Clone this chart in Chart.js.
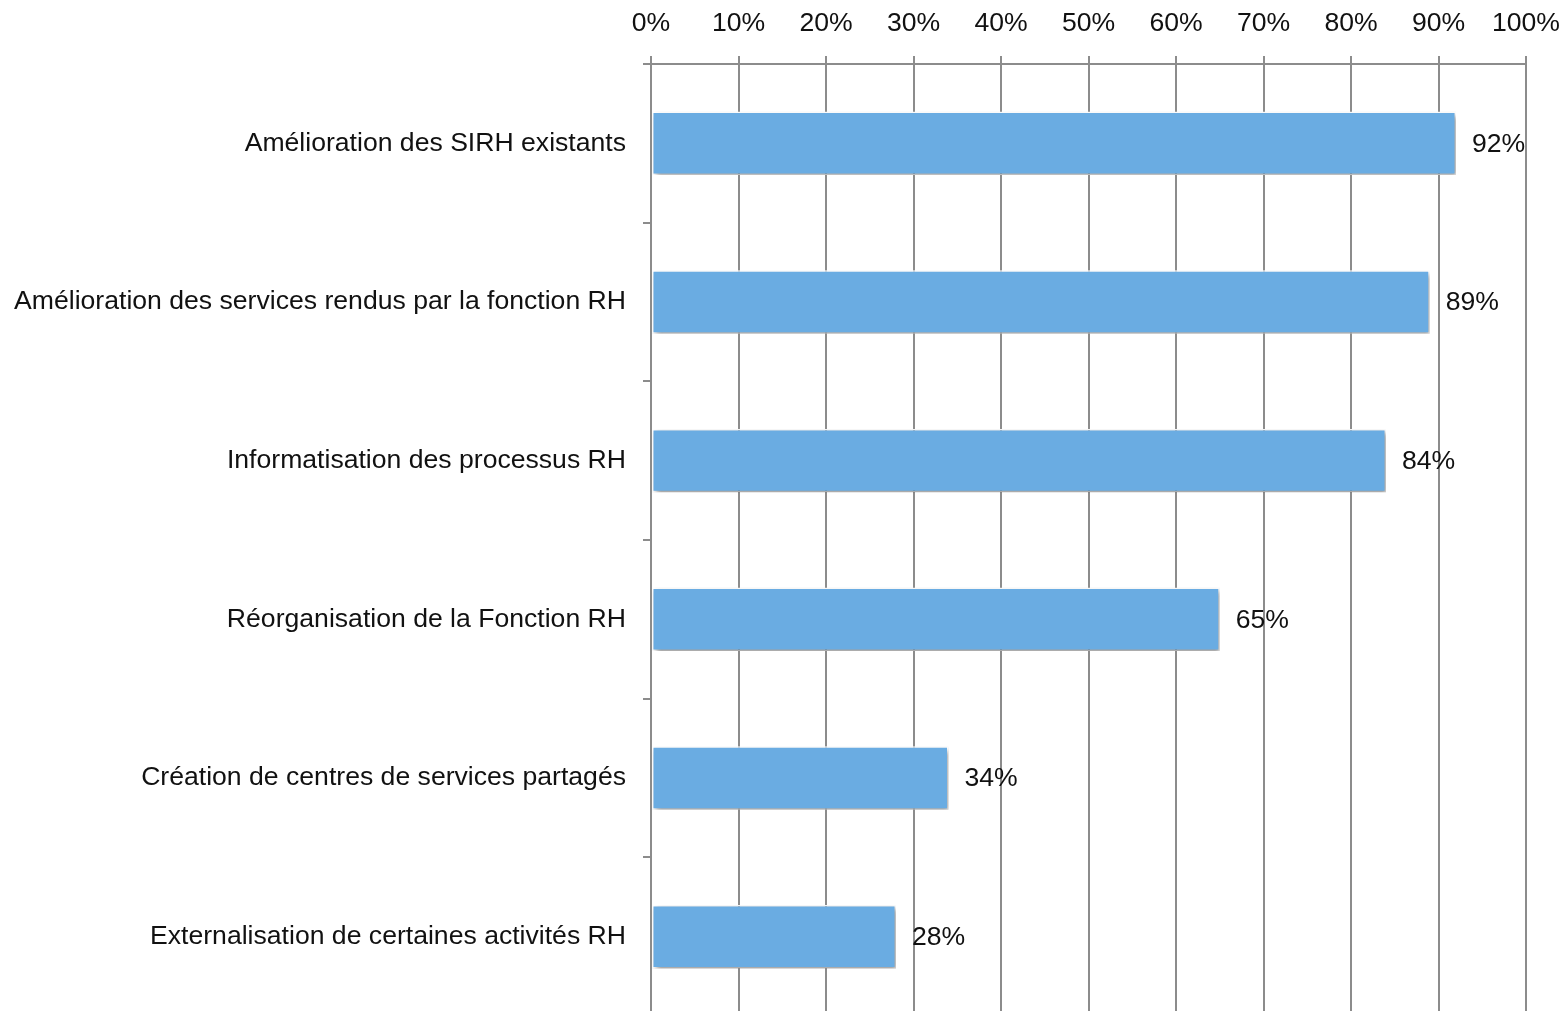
<!DOCTYPE html>
<html lang="fr">
<head>
    <meta charset="UTF-8">
    <title>Priorités RH</title>
    <script src="https://cdn.jsdelivr.net/npm/chart.js"></script>
    <style>
        html, body { margin: 0; padding: 0; background: #fff; overflow: hidden; }
        #wrap { width: 1562px; height: 1016px; position: relative; }
    </style>
</head>
<body>
    <div id="wrap"><canvas id="barChart"></canvas></div>

    <script>
        const categories = [
            'Amélioration des SIRH existants',
            'Amélioration des services rendus par la fonction RH',
            'Informatisation des processus RH',
            'Réorganisation de la Fonction RH',
            'Création de centres de services partagés',
            'Externalisation de certaines activités RH'
        ];
        const values = [92, 89, 84, 65, 34, 28];
        const tickValues = [0, 10, 20, 30, 40, 50, 60, 70, 80, 90, 100];

        const FONT = '"Liberation Sans", Arial, sans-serif';
        const FONT_SIZE = 26.6;
        const gridGray = '#8c8c8c';

        // shadow under the bars + value labels on the right
        const barExtras = {
            id: 'barExtras',
            beforeDatasetDraw(chart) {
                const ctx = chart.ctx;
                ctx.save();
                ctx.shadowColor = 'rgba(0,0,0,0.4)';
                ctx.shadowBlur = 5;
                ctx.shadowOffsetX = 2;
                ctx.shadowOffsetY = 3;
            },
            afterDatasetDraw(chart) {
                chart.ctx.restore();
            },
            afterDatasetsDraw(chart) {
                const ctx = chart.ctx;
                const meta = chart.getDatasetMeta(0);
                ctx.save();
                ctx.font = FONT_SIZE + 'px ' + FONT;
                ctx.fillStyle = '#111';
                ctx.textAlign = 'left';
                ctx.textBaseline = 'middle';
                meta.data.forEach((bar, i) => {
                    ctx.fillText(values[i] + '%', bar.x + 16, bar.y + 1);
                });
                ctx.restore();
            }
        };

        new Chart(document.getElementById('barChart'), {
            type: 'bar',
            data: {
                labels: categories,
                datasets: [{
                    data: values,
                    backgroundColor: 'rgb(106,172,226)',
                    borderColor: '#ffffff',
                    borderWidth: 1.5,
                    borderSkipped: false,
                    barPercentage: 0.8,
                    categoryPercentage: 0.5
                }]
            },
            options: {
                indexAxis: 'y',
                responsive: true,
                maintainAspectRatio: false,
                animation: false,
                layout: { padding: { top: 9, right: 36, left: 0, bottom: 0 } },
                plugins: {
                    legend: { display: false },
                    tooltip: { enabled: false }
                },
                scales: {
                    x: {
                        position: 'top',
                        min: 0,
                        max: 100,
                        afterBuildTicks: scale => {
                            scale.ticks = tickValues.map(v => ({ value: v }));
                        },
                        afterFit: scale => {
                            scale.paddingLeft = 0;
                            scale.paddingRight = 0;
                            scale.height -= 17;
                        },
                        ticks: {
                            callback: v => v + '%',
                            color: '#111',
                            font: { family: FONT, size: FONT_SIZE },
                            padding: 16,
                            maxRotation: 0
                        },
                        grid: {
                            color: gridGray,
                            lineWidth: 2,
                            tickLength: 8
                        },
                        border: { color: gridGray, width: 2 }
                    },
                    y: {
                        afterFit: scale => {
                            scale.width = 651;
                            scale.paddingTop = 0;
                            scale.paddingBottom = 0;
                        },
                        ticks: {
                            color: '#111',
                            font: { family: FONT, size: FONT_SIZE },
                            padding: 17
                        },
                        grid: {
                            drawOnChartArea: false,
                            color: gridGray,
                            lineWidth: 2,
                            tickLength: 8
                        },
                        border: { color: gridGray, width: 2 }
                    }
                }
            },
            plugins: [barExtras]
        });
    </script>
</body>
</html>
